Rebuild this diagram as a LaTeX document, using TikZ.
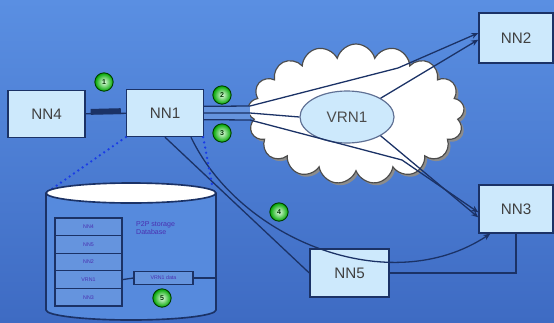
\documentclass[tikz,border=0pt]{standalone}
\usepackage{fontspec}
\setmainfont{Liberation Sans}
\usetikzlibrary{shapes.symbols,shapes.geometric,shadows,arrows.meta}
\definecolor{bgtop}{HTML}{5A8FE2}
\definecolor{bgbot}{HTML}{3E6BC3}
\definecolor{boxfill}{HTML}{CDE9FC}
\definecolor{navy}{HTML}{1B3266}
\definecolor{dbtext}{HTML}{4A2FB0}
\definecolor{rowfill}{HTML}{6594DE}
\definecolor{dotblue}{HTML}{1A3CE6}

\begin{document}
\begin{tikzpicture}[x=0.03cm,y=-0.03cm,
  nnbox/.style={draw=navy,line width=1.2pt,fill=boxfill,minimum width=2.31cm,minimum height=1.41cm,
    font=\fontsize{13}{15}\selectfont,text=black!75},
  numdot/.style={circle,draw=green!25!black,line width=0.8pt,inner color=green!10,outer color=green!65!black,
    minimum size=0.55cm,inner sep=0pt,font=\fontsize{6}{6}\selectfont\bfseries,text=green!20!black},
  link/.style={navy,line width=1.1pt},
  tip/.style={-{Stealth[length=6pt,width=5pt]}},
  dbrow/.style={draw=navy,line width=1pt,fill=rowfill,minimum width=2.01cm,minimum height=0.528cm,
    inner sep=0pt,font=\fontsize{4.5}{5}\selectfont,text=dbtext},
  dots/.style={dotblue,line width=2.2pt,line cap=round,dash pattern=on 0pt off 4.5pt}]
\shade[top color=bgtop,bottom color=bgbot] (0,0) rectangle (554,322);
\useasboundingbox (0,0) rectangle (554,322);

% network cloud
\node[cloud,cloud puffs=17,cloud ignores aspect,draw=black!70,line width=1pt,fill=white,
  drop shadow={shadow xshift=2pt,shadow yshift=-2pt,fill=black!45,opacity=1},
  minimum width=6.5cm,minimum height=4.2cm,inner sep=0pt] (cld) at (356,114) {};
\node[ellipse,draw=navy!70,line width=1pt,fill=boxfill,minimum width=2.82cm,minimum height=1.56cm,
  font=\fontsize{13}{15}\selectfont,text=black!70] (vrn1) at (347,117) {VRN1};

% nodes
\node[nnbox] (nn4) at (46.5,114) {NN4};
\node[nnbox] (nn1) at (165,113) {NN1};
\node[nnbox,minimum width=2.22cm,minimum height=1.5cm] (nn2) at (516,38) {NN2};
\node[nnbox,minimum width=2.22cm,minimum height=1.44cm] (nn3) at (516,209) {NN3};
\node[nnbox,minimum width=2.37cm,minimum height=1.44cm] (nn5) at (349.5,273) {NN5};

% links
\draw[link] (nn4) -- (nn1);
\draw[navy,line width=5pt,shorten <=0.15cm,shorten >=0.15cm] ([yshift=0.06cm]nn4.east) -- ([yshift=0.06cm]nn1.west);
\fill[rowfill] ([yshift=0.2cm]nn1.east) rectangle (250,120);
\draw[link,tip] ([yshift=0.2cm]nn1.east) -- (250,106) -- (398,68) -- ([yshift=0.15cm]nn2.west);
\draw[link] (nn1.east) -- (250,113) -- (vrn1.west);
\draw[link,tip] ([yshift=-0.2cm]nn1.east) -- (250,120) -- (402,160) -- ([yshift=-0.1cm]nn3.west);
\draw[link,tip] (vrn1.north east) -- ([yshift=-0.05cm]nn2.west);
\draw[link,tip] (vrn1.south east) -- ([yshift=-0.25cm]nn3.west);
\draw[link] (nn1.south) -- (nn5.west);
\draw[link,tip] ([xshift=0.78cm]nn1.south) .. controls (240,240) and (390,300) .. ([xshift=0.36cm]nn3.south west);
\draw[link] (nn5.east) -| (nn3.south);

% database
\coordinate (dbnw) at (46,193);
\coordinate (dbne) at (216,193);
\draw[dots] (nn1.south west) -- (dbnw);
\draw[dots] ([xshift=-0.03cm]nn1.south east) -- ([xshift=-0.1cm,yshift=0.15cm]dbne);
\draw[navy,line width=1.4pt,fill=bgtop!85!bgbot] (dbnw) -- (46,310) arc[start angle=180,end angle=360,x radius=2.55cm,y radius=0.3cm] -- (dbne);
\draw[navy,line width=1.4pt,fill=white] (131,193) ellipse [x radius=2.55cm,y radius=0.3cm];
\foreach \r [count=\i] in {NN4,NN5,NN2,VRN1,NN3}
  \node[dbrow] (row\i) at (88.5,{218+17.6*\i-8.8}) {\r};
\node[align=left,anchor=north west,inner sep=0pt,font=\fontsize{6}{7}\selectfont,text=dbtext] (dbname) at (136,221) {P2P storage\\Database};
\node[dbrow,minimum width=1.77cm,minimum height=0.4cm] (cell) at (163.5,278) {VRN1 data};
\coordinate (dbside) at (216,278);
\draw[link] (row4.east) -- (cell.west);
\draw[link] (cell.east) -- (dbside);

% numbered steps
\node[numdot] (d1) at (104,82) {1};
\node[numdot] (d2) at (222,95) {2};
\node[numdot] (d3) at (222,133) {3};
\node[numdot] (d4) at (279,212) {4};
\node[numdot] (d5) at (162,298) {5};
\end{tikzpicture}
\end{document}
